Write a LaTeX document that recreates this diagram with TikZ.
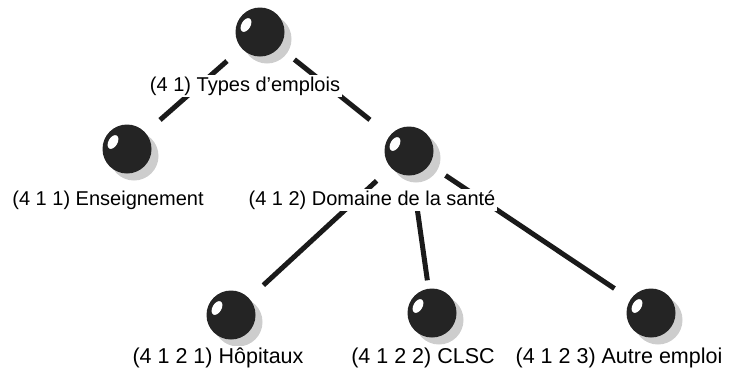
\documentclass[tikz,border=0pt]{standalone}
\usepackage{fontspec}
\setmainfont{Liberation Sans}
\usetikzlibrary{shadows,backgrounds}
\definecolor{ballcol}{RGB}{36,36,36}
\definecolor{linecol}{RGB}{26,26,26}
\definecolor{shadecol}{RGB}{205,205,205}
\tikzset{
  ball/.style={circle, fill=ballcol, minimum size=49pt, inner sep=0pt,
    drop shadow={shadow xshift=7pt, shadow yshift=-7pt, fill=shadecol, opacity=1},
    path picture={\fill[white] ([xshift=-14pt,yshift=7pt]path picture bounding box.center)
      ellipse[x radius=4.5pt, y radius=7.5pt, rotate=-30];}},
  lab/.style={fill=white, inner sep=1.5pt, font=\fontsize{20}{23}\selectfont},
  blab/.style={lab, font=\fontsize{21.5}{24}\selectfont},
  edge/.style={draw=linecol, line width=5pt, shorten <=44pt, shorten >=44pt}
}
\begin{document}
\begin{tikzpicture}[x=1pt,y=-1pt]
\useasboundingbox (0,0) rectangle (731,376);
% balls
\node[ball] (r) at (260,32) {};
\node[ball] (e) at (127,149) {};
\node[ball] (d) at (409,151) {};
\node[ball] (h) at (231,315) {};
\node[ball] (c) at (432,313) {};
\node[ball] (a) at (651,313) {};
% labels
\node[lab] (lr) at (245,86) {(4 1) Types d’emplois};
\node[lab] (le) at (108,200) {(4 1 1) Enseignement};
\node[lab] (ld) at (372,200) {(4 1 2) Domaine de la santé};
\node[blab] (lh) at (218,358) {(4 1 2 1) Hôpitaux};
\node[blab] (lc) at (423,358) {(4 1 2 2) CLSC};
\node[blab] (la) at (619,358) {(4 1 2 3) Autre emploi};
% connectors
\begin{pgfonlayer}{background}
\draw[edge] (r.center) -- (e.center);
\draw[edge, shorten >=50pt] (r.center) -- (d.center);
\draw[edge] (d.center) -- (h.center);
\draw[edge, shorten >=33pt] (d.center) -- (c.center);
\draw[edge] (d.center) -- (a.center);
\end{pgfonlayer}
\end{tikzpicture}
\end{document}
